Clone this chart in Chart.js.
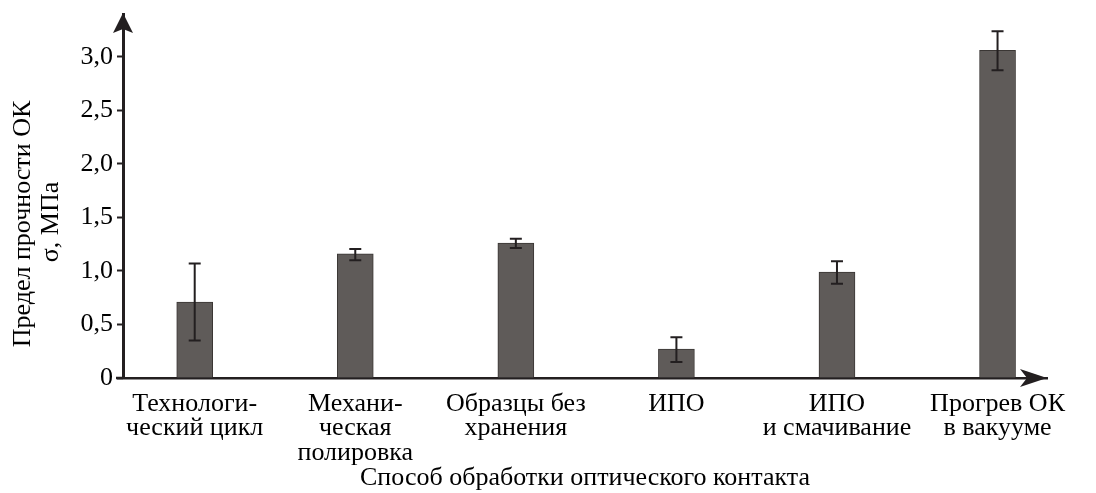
<!DOCTYPE html>
<html>
<head>
<meta charset="utf-8">
<script src="https://cdn.jsdelivr.net/npm/chart.js@4"></script>
<style>
    body { margin: 0; background: #fff; }
    #wrap { width: 1096px; height: 493px; position: relative; }
</style>
</head>
<body>
<div id="wrap"><canvas id="barChart"></canvas></div>
<script>
// Data
const categories = [
    ['Технологи-', 'ческий цикл'],
    ['Механи-', 'ческая', 'полировка'],
    ['Образцы без', 'хранения'],
    ['ИПО'],
    ['ИПО', 'и смачивание'],
    ['Прогрев ОК', 'в вакууме']
];
const strength = [0.71, 1.16, 1.26, 0.27, 0.99, 3.06];
const errLow = [0.35, 1.10, 1.215, 0.15, 0.88, 2.875];
const errHigh = [1.07, 1.205, 1.30, 0.38, 1.09, 3.24];
const yTicks = [0, 0.5, 1.0, 1.5, 2.0, 2.5, 3.0];
const yTitle = ['Предел прочности ОК', 'σ, МПа'];
const xTitle = 'Способ обработки оптического контакта';

const FONT = "'Liberation Serif', 'Times New Roman', serif";
const INK = '#231f20';

// error bars, axis arrows and the two-line y title
const extras = {
    id: 'extras',
    afterDatasetsDraw(chart) {
        const { ctx, scales: { x, y } } = chart;
        ctx.save();
        ctx.strokeStyle = INK;
        ctx.lineWidth = 2;
        strength.forEach((_, i) => {
            const px = x.getPixelForValue(i);
            const top = y.getPixelForValue(errHigh[i]);
            const bot = y.getPixelForValue(errLow[i]);
            ctx.beginPath();
            ctx.moveTo(px, top); ctx.lineTo(px, bot);
            ctx.moveTo(px - 6, top); ctx.lineTo(px + 6, top);
            ctx.moveTo(px - 6, bot); ctx.lineTo(px + 6, bot);
            ctx.stroke();
        });
        ctx.restore();
    },
    afterDraw(chart) {
        const { ctx, chartArea: a } = chart;
        ctx.save();
        ctx.fillStyle = INK;
        // up arrow on the y axis
        ctx.beginPath();
        ctx.moveTo(a.left, a.top - 1);
        ctx.lineTo(a.left + 10, a.top + 19);
        ctx.lineTo(a.left, a.top + 15);
        ctx.lineTo(a.left - 10, a.top + 19);
        ctx.closePath();
        ctx.fill();
        // right arrow on the x axis
        ctx.beginPath();
        ctx.moveTo(a.right, a.bottom);
        ctx.lineTo(a.right - 27, a.bottom - 9);
        ctx.lineTo(a.right - 20, a.bottom);
        ctx.lineTo(a.right - 27, a.bottom + 9);
        ctx.closePath();
        ctx.fill();
        // x axis runs a little to the left of the y axis
        ctx.fillRect(a.left - 7, a.bottom - 1.25, 7, 2.5);
        // y title
        ctx.fillStyle = '#000';
        ctx.font = `26px ${FONT}`;
        ctx.textAlign = 'center';
        ctx.textBaseline = 'middle';
        const mid = (a.top + a.bottom) / 2;
        [[23.5, mid + 28], [51.5, mid + 26]].forEach(([tx, ty], k) => {
            ctx.save();
            ctx.translate(tx, ty);
            ctx.rotate(-Math.PI / 2);
            ctx.fillText(yTitle[k], 0, 0);
            ctx.restore();
        });
        ctx.restore();
    }
};

new Chart(document.getElementById('barChart'), {
    type: 'bar',
    data: {
        datasets: [{
            data: strength.map((v, i) => ({ x: i, y: v })),
            backgroundColor: '#5f5b59',
            borderColor: '#3a3634',
            borderWidth: 1,
            barThickness: 36
        }]
    },
    options: {
        responsive: true,
        maintainAspectRatio: false,
        animation: false,
        layout: { padding: { top: 14, right: 49, left: 0, bottom: 0 } },
        plugins: { legend: { display: false }, tooltip: { enabled: false } },
        scales: {
            x: {
                type: 'linear',
                offset: false,
                min: -0.4466,
                max: 5.308,
                afterBuildTicks: s => { s.ticks = categories.map((_, i) => ({ value: i })); },
                afterFit: s => { s.height = 115; s.paddingLeft = 0; s.paddingRight = 0; },
                grid: { display: false, drawTicks: false },
                border: { color: INK, width: 2.5 },
                ticks: {
                    autoSkip: false,
                    maxRotation: 0,
                    padding: 14,
                    color: '#000',
                    font: { family: FONT, size: 26, lineHeight: 0.94 },
                    callback: v => categories[v]
                },
                title: {
                    display: true,
                    text: xTitle,
                    color: '#000',
                    font: { family: FONT, size: 26 },
                    padding: { top: 0, bottom: -1 }
                }
            },
            y: {
                min: 0,
                max: 3.4,
                afterBuildTicks: s => { s.ticks = yTicks.map(v => ({ value: v })); },
                afterFit: s => { s.width = 123; s.paddingTop = 0; s.paddingBottom = 0; },
                grid: { drawOnChartArea: false, tickLength: 6, tickColor: INK, tickWidth: 2 },
                border: { color: INK, width: 3 },
                ticks: {
                    padding: 4,
                    color: '#000',
                    font: { family: FONT, size: 26 },
                    callback: v => v === 0 ? '0' : v.toFixed(1).replace('.', ',')
                }
            }
        }
    },
    plugins: [extras]
});
</script>
</body>
</html>
